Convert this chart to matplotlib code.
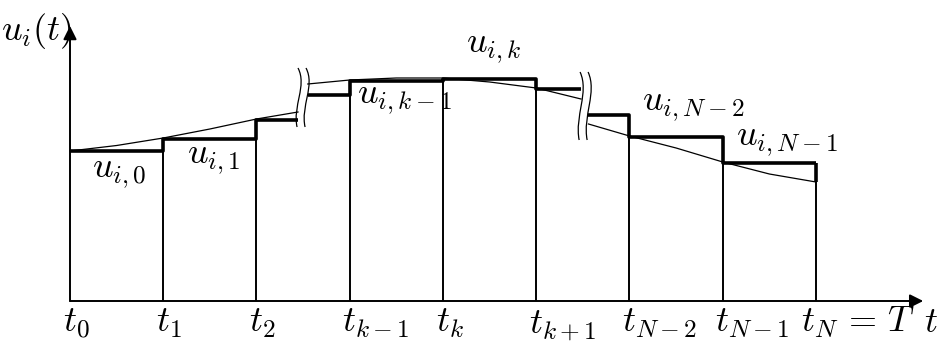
"""
Piecewise-constant control u_i(t) over the time grid t_0 ... t_N.
"""

import matplotlib

matplotlib.use("Agg")
import matplotlib.pyplot as plt
from matplotlib.path import Path
from matplotlib.patches import PathPatch

plt.rcParams["mathtext.fontset"] = "cm"

# grid positions (in interval units) and tick labels
t_pos = [0, 1, 2, 3, 4, 5, 6, 7, 8]
t_labels = [r"$t_0$", r"$t_1$", r"$t_2$", r"$t_{k-1}$", r"$t_k$",
            r"$t_{k+1}$", r"$t_{N-2}$", r"$t_{N-1}$", r"$t_N \,=\, T$"]

# break marks in the time axis
break_x = [2.445, 5.47]
break_span = [(1.74, 2.33), (1.61, 2.29)]

# step levels, one block per piece between breaks
step_x = [[0, 1, 2, 2.445], [2.55, 3, 4, 5, 5.48], [5.56, 6, 7, 8]]
step_u = [[1.50, 1.62, 1.81], [2.06, 2.20, 2.22, 2.12], [1.86, 1.64, 1.38]]
u_end = 1.19  # curve value at t_N

# continuous trajectory, one list per piece
curve_x = [[0, 0.5, 1, 1.5, 2, 2.445],
           [2.55, 3, 3.5, 4, 4.5, 5, 5.48],
           [5.56, 6, 6.5, 7, 7.5, 8]]
curve_u = [[1.50, 1.555, 1.63, 1.72, 1.82, 1.89],
           [2.17, 2.21, 2.23, 2.23, 2.19, 2.13, 2.02],
           [1.77, 1.65, 1.53, 1.39, 1.27, 1.19]]

# sample labels u_{i,j}
u_labels = [r"$u_{i,0}$", r"$u_{i,1}$", r"$u_{i,k-1}$", r"$u_{i,k}$",
            r"$u_{i,N-2}$", r"$u_{i,N-1}$"]
u_label_pos = [(0.24, 1.24), (1.25, 1.38), (3.08, 1.98), (4.25, 2.49),
               (6.13, 1.91), (7.14, 1.56)]

PX = 93.25  # pixels per interval
fig = plt.figure(figsize=(9.38, 3.48), dpi=100)
ax = fig.add_axes([0, 0, 1, 1])
ax.set_xlim(-70 / PX, 868 / PX)
ax.set_ylim(-0.47, 3.01)
ax.axis("off")

# vertical grid lines from the axis up to the step
for t in t_pos[1:]:
    if t == t_pos[-1]:
        top = u_end
    else:
        levels = [u for xs, us in zip(step_x, step_u)
                  for a, b, u in zip(xs[:-1], xs[1:], us) if abs(a - t) < 1e-6 or abs(b - t) < 1e-6]
        top = min(levels)
    ax.plot([t, t], [0, top], color="k", lw=1.4, solid_capstyle="butt")

# thick step function
for xs, us in zip(step_x, step_u):
    ax.step(xs, us + [us[-1]], where="post", color="k", lw=2.6, solid_capstyle="butt")
ax.plot([8, 8], [step_u[-1][-1], u_end], color="k", lw=2.6, solid_capstyle="butt")

# thin trajectory
for xs, us in zip(curve_x, curve_u):
    ax.plot(xs, us, color="k", lw=0.9)

# axes with arrows
ax.annotate("", xy=(9.15, 0), xytext=(0, 0),
            arrowprops=dict(arrowstyle="-|>", lw=1.4, color="k",
                            mutation_scale=20, shrinkA=0, shrinkB=0))
ax.annotate("", xy=(0, 2.75), xytext=(0, 0),
            arrowprops=dict(arrowstyle="-|>", lw=1.4, color="k",
                            mutation_scale=20, shrinkA=0, shrinkB=0))


# break marks: two parallel S-shaped strokes
def break_mark(x0, y_lo, y_hi):
    h = y_hi - y_lo
    gap = 8 / PX
    for dx in (0, gap):
        verts = [(x0 + dx, y_hi), (x0 + dx + 0.10, y_hi - 0.3 * h),
                 (x0 + dx - 0.06, y_lo + 0.35 * h), (x0 + dx - 0.01, y_lo)]
        codes = [Path.MOVETO, Path.CURVE4, Path.CURVE4, Path.CURVE4]
        ax.add_patch(PathPatch(Path(verts, codes), fill=False, lw=0.9,
                               edgecolor="k", zorder=5))


for bx, (lo, hi) in zip(break_x, break_span):
    break_mark(bx, lo, hi)

# text
fs = 26
for x, lab in zip(t_pos, t_labels):
    shift = 0.16 if x == t_pos[-1] else 0.08
    ax.text(x - shift, -0.31, lab, fontsize=fs, ha="left", va="baseline")
ax.text(9.16, -0.31, r"$t$", fontsize=fs, ha="left", va="baseline")
for (x, y), lab in zip(u_label_pos, u_labels):
    ax.text(x, y, lab, fontsize=fs, ha="left", va="baseline")
ax.text(-69 / PX, 2.61, r"$u_i(t)$", fontsize=fs, ha="left", va="baseline")

fig.savefig("out.png", dpi=100)
